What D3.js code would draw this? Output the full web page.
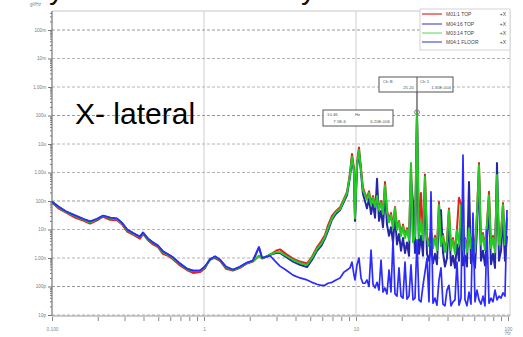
<!DOCTYPE html>
<html>
<head>
<meta charset="utf-8">
<script src="https://cdn.jsdelivr.net/npm/d3@7"></script>
<style>
  body { margin: 0; background: #fff; }
  svg { display: block; }
</style>
</head>
<body>
<div id="chart"></div>
<script>
// frequencies (Hz), shared by all four channels
const freqs = [0.1,0.11,0.124,0.142,0.162,0.178,0.198,0.217,0.241,0.268,0.289,0.312,0.346,0.379,0.397,0.428,0.462,0.498,0.537,0.58,
  0.625,0.695,0.773,0.847,0.941,1.015,1.095,1.181,1.274,1.395,1.551,1.725,1.918,2.1,2.3,2.41,2.56,2.72,2.98,3.16,
  3.46,3.85,4.28,4.76,5.13,5.54,5.89,6.25,6.54,6.95,7.39,7.85,8.34,8.73,9.13,9.41,9.7,9.85,10.15,10.46,
  10.79,11.1,
  11.46,11.81,12.18,12.56,12.94,13.34,13.75,14.17,14.61,15.05,15.52,15.99,16.49,16.99,17.52,18.05,18.61,19.18,19.77,20.38,
  21.01,21.65,22.32,23.0,23.71,24.44,25.19,25.96,26.76,27.59,28.43,29.31,30.21,31.14,32.1,33.08,34.1,35.15,36.23,37.34,
  38.49,39.67,40.89,42.17,43.46,44.8,46.17,47.6,49.06,50.57,52.12,53.72,55.38,57.08,58.83,60.65,62.51,64.43,66.42,68.46,
  70.57,72.73,74.99,77.3,79.67,82.13,84.65,87.26,89.93,92.71,95.56,98.5];

// PSD values, g²/Hz
const redVals = [9.0e-8,5.5e-8,3.9e-8,2.6e-8,2.0e-8,1.6e-8,2.1e-8,2.8e-8,2.2e-8,2.1e-8,1.5e-8,8.5e-9,6.4e-9,4.8e-9,7.0e-9,4.2e-9,3.0e-9,2.4e-9,1.4e-9,1.2e-9,
  9.0e-10,5.5e-10,3.8e-10,3.0e-10,3.2e-10,4.4e-10,9.5e-10,1.0e-9,8.0e-10,4.2e-10,3.6e-10,4.5e-10,6.4e-10,7.5e-10,1.2e-9,9.5e-10,1.1e-9,1.3e-9,1.8e-9,2.0e-9,
  1.4e-9,9.5e-10,7.5e-10,6.4e-10,1.1e-9,2.4e-9,3.8e-9,6.4e-9,1.4e-8,3.0e-8,4.5e-8,6.0e-8,1.2e-7,2.1e-7,9.5e-7,4.5e-6,1.4e-6,3.0e-8,2.2e-6,7.5e-6,
  1.4e-6,3.0e-7,
  1.8e-7,1.3e-7,2.2e-7,8.5e-8,1.5e-7,7.2e-8,1.6e-7,5.5e-8,1.0e-7,4.0e-8,4.6e-7,4.8e-8,2.2e-8,3.8e-8,1.3e-8,6.2e-8,1.1e-8,2.0e-8,7.0e-9,1.5e-8,
  6.0e-9,1.1e-8,5.0e-9,1.6e-6,4.2e-9,7.0e-9,1.1e-4,6.0e-9,1.9e-7,5.0e-9,8.5e-7,6.0e-9,3.0e-9,9.5e-9,2.6e-9,6.0e-9,2.3e-9,9.2e-8,3.0e-9,7.0e-9,
  2.0e-9,4.2e-9,5.5e-8,2.3e-9,5.0e-9,1.7e-9,1.1e-8,1.3e-7,8.0e-8,2.3e-9,5.0e-9,2.0e-9,1.3e-8,2.6e-9,6.0e-9,2.0e-9,3.8e-8,2.15e-6,3.4e-9,7.5e-9,
  2.3e-9,1.6e-8,2.1e-7,2.6e-9,6.0e-9,2.0e-9,7.0e-7,3.4e-9,7.5e-9,8.5e-8,3.4e-9,2.6e-8];

const blueVals = [9.4e-8,6.4e-8,4.2e-8,3.1e-8,2.3e-8,1.9e-8,2.3e-8,3.0e-8,2.6e-8,2.4e-8,1.7e-8,1.0e-8,7.2e-9,5.6e-9,7.8e-9,4.7e-9,3.5e-9,2.7e-9,1.7e-9,1.35e-9,
  1.05e-9,6.4e-10,4.2e-10,3.6e-10,3.6e-10,5.0e-10,8.5e-10,1.1e-9,8.5e-10,4.8e-10,3.8e-10,4.8e-10,6.7e-10,8.0e-10,2.4e-9,1.0e-9,1.1e-9,1.3e-9,1.5e-9,1.5e-9,
  1.1e-9,7.5e-10,5.8e-10,4.8e-10,8.5e-10,1.8e-9,2.6e-9,4.8e-9,9.0e-9,2.2e-8,3.6e-8,4.8e-8,9.5e-8,1.6e-7,7.0e-7,3.0e-6,1.0e-6,2.0e-8,1.5e-6,5.0e-6,
  1.0e-6,1.8e-7,
  1.0e-7,5.5e-8,1.2e-7,3.5e-8,8.0e-8,2.6e-8,6.0e-7,2.0e-8,4.5e-8,1.2e-8,2.0e-7,1.5e-8,6.0e-9,1.2e-8,3.5e-9,3.0e-8,3.0e-9,7.0e-9,1.8e-9,5.0e-9,
  1.5e-9,3.5e-9,1.2e-9,6.0e-7,9.0e-8,1.5e-9,1.2e-4,1.4e-9,6.0e-9,1.2e-9,3.0e-7,1.4e-9,8.0e-10,2.5e-9,6.5e-10,1.4e-9,6.0e-10,3.0e-8,4.8e-8,1.6e-9,
  5.0e-10,1.0e-9,2.0e-8,5.5e-10,1.2e-9,4.5e-10,3.0e-9,8.0e-10,3.0e-8,5.5e-10,1.2e-9,5.0e-10,4.6e-7,6.5e-10,1.4e-9,4.5e-10,1.0e-8,9.0e-7,8.0e-10,1.8e-9,
  5.5e-10,4.5e-9,6.0e-8,6.0e-10,1.4e-9,4.5e-10,2.15e-6,8.0e-10,1.8e-9,2.5e-8,8.0e-10,6.0e-9];

const greenVals = [9.8e-8,6.2e-8,4.1e-8,3.0e-8,2.2e-8,1.8e-8,2.3e-8,3.0e-8,2.5e-8,2.3e-8,1.6e-8,9.6e-9,6.9e-9,5.5e-9,7.5e-9,4.6e-9,3.4e-9,2.6e-9,1.6e-9,1.3e-9,
  1.0e-9,6.2e-10,4.1e-10,3.5e-10,3.5e-10,4.8e-10,8.5e-10,1.1e-9,8.5e-10,4.8e-10,3.8e-10,4.8e-10,6.7e-10,7.9e-10,1.2e-9,1.0e-9,1.1e-9,1.3e-9,1.6e-9,1.6e-9,
  1.2e-9,8.5e-10,6.7e-10,5.7e-10,1.0e-9,2.1e-9,3.1e-9,5.5e-9,1.1e-8,2.5e-8,4.1e-8,5.2e-8,1.1e-7,1.9e-7,8.2e-7,3.5e-6,1.2e-6,2.5e-8,1.8e-6,6.2e-6,
  1.2e-6,2.4e-7,
  1.6e-7,1.1e-7,1.9e-7,7.2e-8,1.3e-7,6.2e-8,1.5e-7,4.8e-8,8.5e-8,3.5e-8,3.6e-7,4.1e-8,1.8e-8,3.2e-8,1.1e-8,5.7e-8,9.6e-9,1.8e-8,5.9e-9,1.3e-8,
  5.0e-9,9.6e-9,4.3e-9,2.15e-6,3.6e-9,5.9e-9,1.3e-4,5.0e-9,1.8e-8,4.3e-9,6.95e-7,5.0e-9,2.6e-9,8.2e-9,2.2e-9,5.0e-9,1.9e-9,7.2e-8,2.6e-9,5.9e-9,
  1.6e-9,3.6e-9,4.8e-8,1.9e-9,4.3e-9,1.4e-9,9.6e-9,2.9e-9,7.2e-8,1.9e-9,4.3e-9,1.6e-9,1.1e-8,2.2e-9,5.0e-9,1.6e-9,3.2e-8,1.8e-6,2.9e-9,6.4e-9,
  1.9e-9,1.4e-8,1.6e-7,2.2e-9,5.0e-9,1.6e-9,8.2e-7,2.9e-9,6.4e-9,7.2e-8,2.9e-9,2.2e-8];

const floorVals = [9.4e-8,6.4e-8,4.3e-8,3.1e-8,2.3e-8,1.9e-8,2.4e-8,3.1e-8,2.6e-8,2.4e-8,1.7e-8,1.0e-8,7.2e-9,5.6e-9,7.8e-9,4.8e-9,3.5e-9,2.7e-9,1.7e-9,1.35e-9,
  1.05e-9,6.4e-10,4.2e-10,3.6e-10,3.6e-10,5.0e-10,8.8e-10,1.15e-9,8.8e-10,5.0e-10,3.9e-10,5.0e-10,6.9e-10,8.2e-10,2.4e-9,1.0e-9,1.1e-9,1.2e-9,7.2e-10,5.2e-10,
  3.8e-10,2.5e-10,2.0e-10,1.7e-10,1.4e-10,1.2e-10,1.1e-10,1.1e-10,1.3e-10,1.4e-10,1.7e-10,2.0e-10,3.2e-10,3.8e-10,4.5e-10,7.2e-10,2.5e-10,1.7e-10,5.7e-10,1.0e-9,
  2.0e-10,1.3e-10,
  1.3e-10,1.7e-10,1.0e-10,1.9e-9,1.2e-10,8.9e-11,1.4e-10,7.5e-11,8.5e-10,6.4e-11,8.9e-11,5.5e-11,3.8e-10,6.4e-11,4.3e-9,5.5e-11,4.6e-11,4.5e-10,4.6e-11,3.9e-11,
  7.2e-10,3.6e-11,4.6e-11,5.7e-10,3.4e-11,3.9e-11,4.3e-9,3.4e-11,2.9e-11,1.1e-10,3.2e-10,1.0e-9,2.9e-11,2.1e-7,2.6e-11,3.9e-11,2.2e-11,1.7e-10,4.5e-10,2.4e-11,
  2.1e-11,7.5e-11,1.1e-10,2.1e-11,2.9e-11,3.4e-11,7.2e-10,2.2e-11,3.9e-11,4.1e-6,3.4e-11,2.1e-11,6.4e-11,2.4e-11,3.8e-8,2.9e-11,7.5e-11,3.4e-11,2.4e-11,4.6e-11,
  2.1e-11,9.6e-9,2.6e-11,3.9e-11,2.9e-11,7.5e-11,3.4e-11,4.6e-11,3.9e-11,6.0e-11,4.6e-11,4.8e-8];

const legendLabels = ["M01:1 TOP", "M04:16 TOP", "M03:14 TOP", "M04:1 FLOOR"];
const legendSuffix = ["+X", "+X", "+X", "+X"];
const seriesColors = ["#e02222", "#2626a8", "#22cc22", "#2b2bff"];
const legendColors = ["#e84646", "#6a6ad8", "#88e088", "#6a6ad8"];

const yTickVals = [1e-1,1e-2,1e-3,1e-4,1e-5,1e-6,1e-7,1e-8,1e-9,1e-10,1e-11];
const yTickLabels = ["100m","10m","1.00m","100u","10u","1.00u","100n","10n","1.00n","100p","10p"];
const xTickVals = [0.1, 1, 10, 100];
const xTickLabels = ["0.100", "1", "10", "100"];

const width = 523, height = 337;
const frame = { left: 52, right: 510, top: 11, bottom: 316 };

const svg = d3.select("#chart").append("svg")
  .attr("width", width).attr("height", height)
  .style("font-family", "'Liberation Sans', Arial, sans-serif");

const x = d3.scaleLog().domain([0.1, 100]).range([52, 508]);
const y = d3.scaleLog().domain([1e-11, 1e-1]).range([315, 30]);

// cropped title descenders at the very top
svg.append("text").attr("x", 49).attr("y", -1).attr("font-size", 30).attr("fill", "#111").text("y");
svg.append("text").attr("x", 301).attr("y", -1).attr("font-size", 30).attr("fill", "#111").text("y");

// frame
svg.append("line").attr("x1", frame.left).attr("x2", frame.right).attr("y1", frame.top).attr("y2", frame.top)
  .attr("stroke", "#c8c8c8");
svg.append("line").attr("x1", frame.right).attr("x2", frame.right).attr("y1", frame.top).attr("y2", frame.bottom)
  .attr("stroke", "#d0d0d0");

// vertical grid at decades
svg.selectAll(".vgrid").data([1, 10]).enter().append("line")
  .attr("x1", d => x(d)).attr("x2", d => x(d))
  .attr("y1", frame.top).attr("y2", frame.bottom)
  .attr("stroke", "#cfcfcf");

// horizontal grid at decades
svg.selectAll(".hgrid").data(yTickVals).enter().append("line")
  .attr("x1", frame.left).attr("x2", frame.right)
  .attr("y1", d => y(d)).attr("y2", d => y(d))
  .attr("stroke", (d, i) => i % 3 === 0 ? "#999" : "#b4b4b4")
  .attr("stroke-dasharray", "3,2");

// y axis ticks
const yMinor = [];
for (let k = -11; k <= 0; k++) {
  for (let m = 2; m <= 9; m++) {
    const v = m * Math.pow(10, k);
    if (y(v) >= frame.top && y(v) <= frame.bottom) yMinor.push(v);
  }
}
const yMinorAxis = svg.append("g").attr("transform", `translate(${frame.left},0)`)
  .call(d3.axisLeft(y).tickValues(yMinor).tickSize(2).tickFormat(""));
const yMajorAxis = svg.append("g").attr("transform", `translate(${frame.left},0)`)
  .call(d3.axisLeft(y).tickValues(yTickVals).tickSize(4).tickPadding(2)
    .tickFormat((d, i) => yTickLabels[i]));
[yMinorAxis, yMajorAxis].forEach(g => {
  g.select(".domain").remove();
  g.selectAll("line").attr("stroke", "#777");
  g.selectAll("text").attr("font-size", 4.6).attr("fill", "#777");
});
svg.append("line").attr("x1", frame.left).attr("x2", frame.left).attr("y1", frame.top).attr("y2", frame.bottom)
  .attr("stroke", "#777").attr("stroke-width", 1.2);
svg.append("text").attr("x", 30).attr("y", 6).attr("font-size", 4.6).attr("fill", "#777").text("g²/Hz");

// x axis ticks
const xMinor = [];
for (let k = -1; k <= 1; k++) {
  for (let m = 2; m <= 9; m++) xMinor.push(m * Math.pow(10, k));
}
const xMinorAxis = svg.append("g").attr("transform", `translate(0,${frame.bottom + 1})`)
  .call(d3.axisBottom(x).tickValues(xMinor).tickSize(4).tickFormat(""));
const xMajorAxis = svg.append("g").attr("transform", `translate(0,${frame.bottom + 1})`)
  .call(d3.axisBottom(x).tickValues(xTickVals).tickSize(4).tickPadding(7)
    .tickFormat((d, i) => xTickLabels[i]));
[xMinorAxis, xMajorAxis].forEach(g => {
  g.select(".domain").remove();
  g.selectAll("line").attr("stroke", "#888");
  g.selectAll("text").attr("font-size", 4.8).attr("fill", "#888");
});
svg.append("text").attr("x", x(100)).attr("y", 335).attr("text-anchor", "middle")
  .attr("font-size", 4.6).attr("fill", "#888").text("Hz");
svg.append("line").attr("x1", frame.left).attr("x2", frame.right).attr("y1", frame.bottom).attr("y2", frame.bottom)
  .attr("stroke", "#999");

// series
svg.append("clipPath").attr("id", "clip").append("rect")
  .attr("x", frame.left).attr("y", frame.top)
  .attr("width", frame.right - frame.left).attr("height", frame.bottom - frame.top);

const line = d3.line().x(d => x(d[0])).y(d => y(d[1]));
const series = [redVals, blueVals, greenVals, floorVals];
const plotG = svg.append("g").attr("clip-path", "url(#clip)");
plotG.selectAll(".series").data(series).enter().append("path")
  .attr("d", vals => line(d3.zip(freqs, vals)))
  .attr("fill", "none")
  .attr("stroke", (d, i) => seriesColors[i])
  .attr("stroke-width", (d, i) => i === 3 ? 1.7 : 2)
  .attr("stroke-linejoin", "round");

// legend
const legend = svg.append("g");
legend.append("rect").attr("x", 420).attr("y", 9).attr("width", 90).attr("height", 41)
  .attr("fill", "#fff").attr("stroke", "#d4d4d4");
legendLabels.forEach((lab, i) => {
  const ly = [14, 24, 33, 42][i];
  legend.append("line").attr("x1", 422).attr("x2", 442).attr("y1", ly).attr("y2", ly)
    .attr("stroke", legendColors[i]).attr("stroke-width", 1.4);
  legend.append("text").attr("x", 446).attr("y", ly + 1.8).attr("font-size", 5).attr("fill", "#444").text(lab);
  legend.append("text").attr("x", 506).attr("y", ly + 1.8).attr("text-anchor", "end")
    .attr("font-size", 5).attr("fill", "#444").text(legendSuffix[i]);
});

// cursor at the 25.2 Hz peak
const peakIdx = greenVals.indexOf(d3.max(greenVals));
const peakF = freqs[peakIdx], peakV = greenVals[peakIdx];
svg.append("line").attr("x1", x(peakF)).attr("x2", x(peakF)).attr("y1", 92).attr("y2", y(peakV))
  .attr("stroke", "#555").attr("stroke-width", 1.3);
svg.append("circle").attr("cx", x(peakF)).attr("cy", y(peakV)).attr("r", 2.4)
  .attr("fill", "none").attr("stroke", "#777");

const box1 = svg.append("g");
box1.append("rect").attr("x", 379).attr("y", 77).attr("width", 74).attr("height", 15)
  .attr("fill", "#fff").attr("stroke", "#555");
box1.append("line").attr("x1", x(peakF)).attr("x2", x(peakF)).attr("y1", 77).attr("y2", 92).attr("stroke", "#555");
box1.append("text").attr("x", 383).attr("y", 83).attr("font-size", 4.3).attr("fill", "#555").text("Ch B");
box1.append("text").attr("x", 420).attr("y", 83).attr("font-size", 4.3).attr("fill", "#555").text("Ch 1");
box1.append("text").attr("x", 414).attr("y", 89).attr("text-anchor", "end").attr("font-size", 4.3).attr("fill", "#555").text("25.20");
box1.append("text").attr("x", 451).attr("y", 89).attr("text-anchor", "end").attr("font-size", 4.3).attr("fill", "#555").text("1.30E-004");

const box2 = svg.append("g");
box2.append("rect").attr("x", 323).attr("y", 110).attr("width", 70).attr("height", 16)
  .attr("fill", "#fff").attr("stroke", "#555");
box2.append("text").attr("x", 327).attr("y", 116).attr("font-size", 4.3).attr("fill", "#555").text("10.46");
box2.append("text").attr("x", 355).attr("y", 116).attr("font-size", 4.3).attr("fill", "#555").text("Hz");
box2.append("text").attr("x", 346).attr("y", 123).attr("text-anchor", "end").attr("font-size", 4.3).attr("fill", "#555").text("7.5E-6");
box2.append("text").attr("x", 390).attr("y", 123).attr("text-anchor", "end").attr("font-size", 4.3).attr("fill", "#555").text("6.20E-006");

// big slide label
svg.append("text").attr("x", 75).attr("y", 124).attr("font-size", 30).attr("fill", "#000").text("X- lateral");
</script>
</body>
</html>
